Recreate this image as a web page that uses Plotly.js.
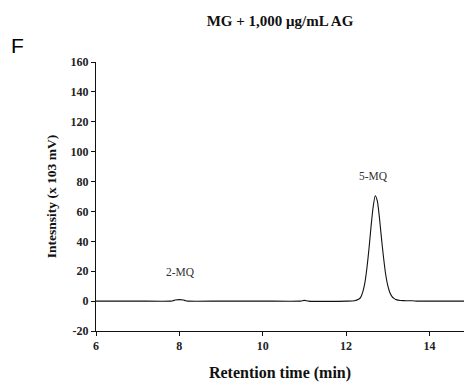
<!DOCTYPE html>
<html>
<head>
<meta charset="utf-8">
<script src="https://cdn.plot.ly/plotly-3.0.1.min.js"></script>
<style>html,body{margin:0;padding:0;background:#fff;}#chart{width:464px;height:382px;}</style>
</head>
<body>
<div id="chart"></div>
<script>
// Retention time (min)
const retentionTime = [6.0, 7.0, 7.8, 7.85, 7.9, 8.0, 8.1, 8.15, 8.2, 9.0, 10.0, 10.9, 11.0, 11.1, 12.0, 12.2, 12.3, 12.35, 12.4, 12.45, 12.5, 12.55, 12.6, 12.65, 12.7, 12.75, 12.8, 12.85, 12.9, 12.95, 13.0, 13.05, 13.1, 13.15, 13.2, 13.3, 13.4, 13.5, 13.6, 13.7, 14.0, 14.83];
// Intensity (x 10^3 mV)
const intensity = [0, 0, 0, 0.3, 0.8, 1.0, 0.8, 0.3, 0, 0, 0, 0, 0.5, 0, 0, 0.2, 1.2, 2.5, 6, 12, 22, 35, 50, 63, 70.5, 67, 56, 42, 29, 18, 10.5, 5.8, 3.2, 1.8, 1.0, 0.4, 0.3, 0.2, 0.2, 0, 0, 0];

const peakNames = ["2-MQ", "5-MQ"];
const peakLabelX = [8.02, 12.67];
const peakLabelY = [19.5, 83.5];

const xTicks = [6, 8, 10, 12, 14];
const yTicks = [-20, 0, 20, 40, 60, 80, 100, 120, 140, 160];

const serif = "Liberation Serif, Times New Roman, serif";

const trace = {
  x: retentionTime, y: intensity, type: "scatter", mode: "lines",
  line: {color: "#111", width: 1.1, shape: "spline", smoothing: 0.6},
  hoverinfo: "skip"
};

const annotations = peakNames.map((n, i) => ({
  text: n, x: peakLabelX[i], y: peakLabelY[i], xref: "x", yref: "y",
  showarrow: false, font: {family: serif, size: 11.5, color: "#333"}
}));
annotations.push({
  text: "F", xref: "paper", yref: "paper", x: -0.212, y: 1.063,
  xanchor: "center", yanchor: "middle", showarrow: false,
  font: {family: "Liberation Sans, Arial, sans-serif", size: 21, color: "#000"}
});

const layout = {
  width: 464, height: 382,
  margin: {l: 96, r: 0, t: 62, b: 51},
  paper_bgcolor: "#fff", plot_bgcolor: "#fff",
  showlegend: false,
  title: {
    text: "MG + 1,000 μg/mL AG",
    font: {family: serif, size: 15, color: "#111", weight: "bold"},
    xref: "paper", x: 0.5, xanchor: "center",
    yref: "container", y: 0.945, yanchor: "middle"
  },
  xaxis: {
    range: [6, 14.83], tickvals: xTicks, ticktext: xTicks.map(String),
    showline: true, linecolor: "#111", linewidth: 1,
    ticks: "outside", ticklen: 4, tickcolor: "#111",
    showgrid: false, zeroline: false,
    tickfont: {family: serif, size: 12, color: "#222", weight: "bold"},
    title: {text: "Retention time (min)", font: {family: serif, size: 16, color: "#111", weight: "bold"}, standoff: 14}
  },
  yaxis: {
    range: [-20, 160], tickvals: yTicks, ticktext: yTicks.map(String),
    showline: true, linecolor: "#111", linewidth: 1,
    ticks: "outside", ticklen: 4, tickcolor: "#111",
    showgrid: false, zeroline: false,
    tickfont: {family: serif, size: 12, color: "#222", weight: "bold"},
    title: {text: "Intesnsity (x 103 mV)", font: {family: serif, size: 13.5, color: "#111", weight: "bold"}, standoff: 10}
  },
  annotations: annotations
};

Plotly.newPlot("chart", [trace], layout, {staticPlot: true, displayModeBar: false});
</script>
</body>
</html>
